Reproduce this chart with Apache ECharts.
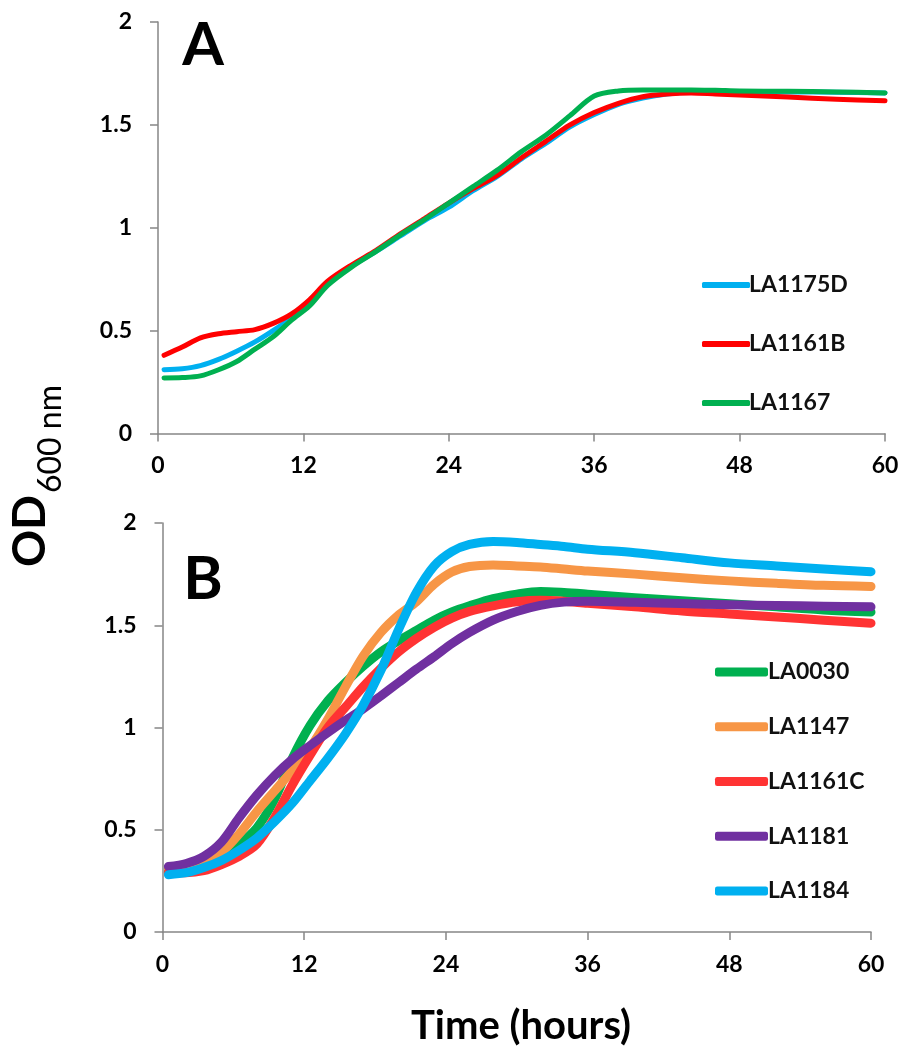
<!DOCTYPE html>
<html>
<head>
<meta charset="utf-8">
<script src="https://cdn.jsdelivr.net/npm/echarts@6/dist/echarts.min.js"></script>
<style>
html,body{margin:0;padding:0;background:#fff;}
#chart{width:903px;height:1052px;}
</style>
</head>
<body>
<div id="chart"></div>
<script>
// ---------- Panel A data ----------
const hoursA = [0.5, 2, 3.5, 5, 6.5, 8, 9.5, 11, 12.5, 14, 16, 18, 20, 22, 24, 26, 28, 30, 32, 34, 36, 38, 40, 42, 44, 46, 48, 52, 56, 60];
const la1175D = [0.31, 0.315, 0.33, 0.36, 0.40, 0.445, 0.50, 0.56, 0.63, 0.73, 0.815, 0.885, 0.96, 1.035, 1.10, 1.18, 1.25, 1.335, 1.41, 1.49, 1.55, 1.60, 1.63, 1.65, 1.66, 1.66, 1.66, 1.66, 1.658, 1.655];
const la1161B = [0.38, 0.42, 0.465, 0.485, 0.495, 0.505, 0.535, 0.58, 0.65, 0.74, 0.82, 0.89, 0.97, 1.045, 1.12, 1.19, 1.255, 1.34, 1.42, 1.50, 1.56, 1.605, 1.637, 1.65, 1.655, 1.65, 1.645, 1.635, 1.625, 1.617];
const la1167 = [0.27, 0.272, 0.28, 0.31, 0.35, 0.41, 0.47, 0.55, 0.62, 0.72, 0.81, 0.885, 0.965, 1.04, 1.12, 1.20, 1.28, 1.37, 1.45, 1.545, 1.64, 1.665, 1.67, 1.67, 1.67, 1.668, 1.665, 1.663, 1.66, 1.655];

// ---------- Panel B data ----------
const hoursB = [0.5, 2, 3.5, 5, 6.5, 8, 9.5, 11, 12.5, 14, 15.5, 17, 18.5, 20, 21.5, 23, 24.5, 26, 28, 30, 32, 34, 36, 40, 44, 48, 52, 56, 60];
const la0030 = [0.30, 0.31, 0.33, 0.37, 0.43, 0.51, 0.65, 0.85, 1.01, 1.13, 1.22, 1.30, 1.37, 1.425, 1.475, 1.525, 1.565, 1.595, 1.63, 1.652, 1.665, 1.66, 1.652, 1.635, 1.62, 1.605, 1.59, 1.575, 1.565];
const la1147 = [0.31, 0.32, 0.345, 0.39, 0.48, 0.59, 0.69, 0.79, 0.90, 1.04, 1.20, 1.35, 1.465, 1.55, 1.615, 1.70, 1.76, 1.787, 1.795, 1.79, 1.785, 1.775, 1.765, 1.75, 1.732, 1.717, 1.705, 1.695, 1.69];
const la1161C = [0.29, 0.29, 0.30, 0.33, 0.37, 0.43, 0.56, 0.72, 0.865, 1.0, 1.10, 1.20, 1.29, 1.37, 1.435, 1.49, 1.535, 1.568, 1.595, 1.615, 1.622, 1.617, 1.607, 1.59, 1.57, 1.555, 1.54, 1.525, 1.51];
const la1181 = [0.32, 0.335, 0.37, 0.44, 0.56, 0.67, 0.765, 0.845, 0.912, 0.975, 1.035, 1.092, 1.155, 1.22, 1.285, 1.346, 1.41, 1.465, 1.525, 1.567, 1.597, 1.613, 1.617, 1.612, 1.606, 1.60, 1.597, 1.593, 1.59];
const la1184 = [0.28, 0.29, 0.315, 0.35, 0.40, 0.46, 0.54, 0.63, 0.74, 0.85, 0.97, 1.11, 1.28, 1.48, 1.66, 1.79, 1.86, 1.895, 1.91, 1.905, 1.895, 1.885, 1.872, 1.855, 1.83, 1.805, 1.79, 1.775, 1.762];

const xTicks = [0, 12, 24, 36, 48, 60];
const yTicks = [0, 0.5, 1, 1.5, 2];

const FONT = 'Lato';
const AXIS_GRAY = '#868686';

function pairs(xs, ys) { return xs.map((x, i) => [x, ys[i]]); }

function xAxisDef(gridIndex) {
  return {
    type: 'value', gridIndex: gridIndex, min: xTicks[0], max: xTicks[xTicks.length - 1], interval: 12,
    axisLine: { show: true, lineStyle: { color: AXIS_GRAY, width: 1.5 } },
    axisTick: { show: true, length: 8, lineStyle: { color: AXIS_GRAY, width: 1.5 } },
    splitLine: { show: false },
    axisLabel: { color: '#000', fontFamily: FONT, fontWeight: 'bold', fontSize: 23, margin: 21 }
  };
}
function yAxisDef(gridIndex) {
  return {
    type: 'value', gridIndex: gridIndex, min: yTicks[0], max: yTicks[yTicks.length - 1], interval: 0.5,
    axisLine: { show: true, lineStyle: { color: AXIS_GRAY, width: 1.5 } },
    axisTick: { show: true, length: 8, lineStyle: { color: AXIS_GRAY, width: 1.5 } },
    splitLine: { show: false },
    axisLabel: { color: '#000', fontFamily: FONT, fontWeight: 'bold', fontSize: 23, margin: 26 }
  };
}
function lineSeries(name, idx, xs, ys, color, width) {
  return {
    name: name, type: 'line', xAxisIndex: idx, yAxisIndex: idx,
    data: pairs(xs, ys), smooth: 0.3, showSymbol: false, symbol: 'none',
    lineStyle: { color: color, width: width, cap: 'round', join: 'round' },
    itemStyle: { color: color },
    emphasis: { disabled: true }, animation: false
  };
}

const chart = echarts.init(document.getElementById('chart'), null, { renderer: 'canvas' });
chart.setOption({
  backgroundColor: '#ffffff',
  animation: false,
  grid: [
    { left: 158, top: 22, width: 727, height: 411.5 },
    { left: 162.5, top: 523, width: 708.5, height: 409 }
  ],
  xAxis: [xAxisDef(0), xAxisDef(1)],
  yAxis: [yAxisDef(0), yAxisDef(1)],
  legend: [
    {
      data: ['LA1175D', 'LA1161B', 'LA1167'],
      orient: 'vertical', left: 697, top: 268, itemGap: 35,
      itemWidth: 48, itemHeight: 6, icon: 'roundRect',
      textStyle: { fontFamily: FONT, fontWeight: 'bold', fontSize: 23, color: '#111', lineHeight: 24, padding: [0, 0, 0, -6] },
      selectedMode: false
    },
    {
      data: ['LA0030', 'LA1147', 'LA1161C', 'LA1181', 'LA1184'],
      orient: 'vertical', left: 710, top: 655, itemGap: 30.75,
      itemWidth: 53, itemHeight: 9, icon: 'roundRect',
      textStyle: { fontFamily: FONT, fontWeight: 'bold', fontSize: 23, color: '#111', lineHeight: 24, padding: [0, 0, 0, -5] },
      selectedMode: false
    }
  ],
  series: [
    lineSeries('LA1175D', 0, hoursA, la1175D, '#00B0F0', 5),
    lineSeries('LA1161B', 0, hoursA, la1161B, '#FF0000', 5),
    lineSeries('LA1167', 0, hoursA, la1167, '#00B050', 5),
    lineSeries('LA0030', 1, hoursB, la0030, '#00B050', 9),
    lineSeries('LA1147', 1, hoursB, la1147, '#F79646', 9),
    lineSeries('LA1161C', 1, hoursB, la1161C, '#FF3333', 9),
    lineSeries('LA1181', 1, hoursB, la1181, '#7030A0', 9),
    lineSeries('LA1184', 1, hoursB, la1184, '#00B0F0', 9)
  ],
  graphic: [
    { type: 'text', x: 203, y: 46, style: { text: 'A', font: 'bold 60px ' + FONT, fill: '#000', align: 'center', verticalAlign: 'middle' } },
    { type: 'text', x: 203, y: 580, style: { text: 'B', font: 'bold 60px ' + FONT, fill: '#000', align: 'center', verticalAlign: 'middle' } },
    { type: 'text', x: 30, y: 531, rotation: Math.PI / 2, style: { text: 'OD', font: 'bold 46px ' + FONT, fill: '#000', align: 'center', verticalAlign: 'middle' } },
    { type: 'text', x: 51, y: 439, rotation: Math.PI / 2, style: { text: '600 nm', font: '32px ' + FONT, fill: '#000', align: 'center', verticalAlign: 'middle' } },
    { type: 'text', x: 521, y: 1026, style: { text: 'Time (hours)', font: 'bold 40px ' + FONT, fill: '#000', align: 'center', verticalAlign: 'middle' } }
  ]
});
</script>
</body>
</html>
